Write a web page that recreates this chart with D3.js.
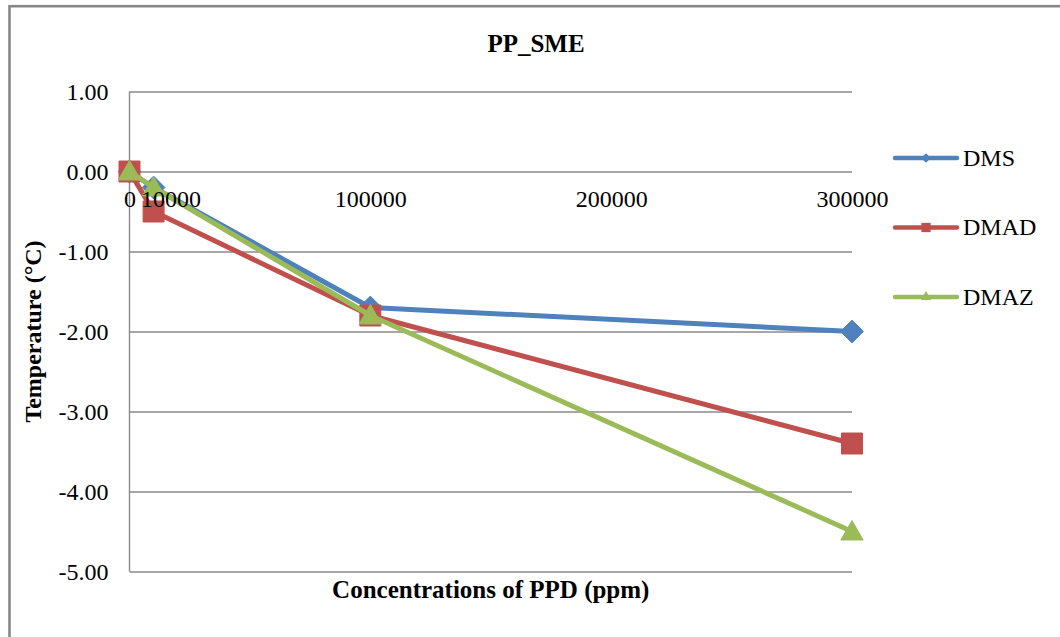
<!DOCTYPE html>
<html>
<head>
<meta charset="utf-8">
<script src="https://cdn.jsdelivr.net/npm/d3@7/dist/d3.min.js"></script>
<style>
  html, body { margin: 0; padding: 0; background: #ffffff; }
  svg { display: block; }
  text { font-family: "Liberation Serif", "Times New Roman", serif; fill: #000; }
</style>
</head>
<body>
<svg id="chart" width="1060" height="637"></svg>
<script>
// PPD concentrations (ppm) at which each additive was measured
const concentrations = [0, 10000, 100000, 300000];
// Temperature change (°C) per series
const dmsValues  = [0, -0.2, -1.7, -2.0];
const dmadValues = [0, -0.5, -1.8, -3.4];
const dmazValues = [0, -0.2, -1.8, -4.5];
const seriesNames = ["DMS", "DMAD", "DMAZ"];
// Axis ticks
const xTickValues = [0, 10000, 100000, 200000, 300000];
const yTickValues = [1, 0, -1, -2, -3, -4, -5];

const chartTitle = "PP_SME";
const xTitle = "Concentrations of PPD (ppm)";
const yTitle = "Temperature (°C)";

const colors = { DMS: "#4F81BD", DMAD: "#C0504D", DMAZ: "#9BBB59" };
const markers = { DMS: d3.symbolDiamond2, DMAD: d3.symbolSquare2, DMAZ: d3.symbolTriangle2 };

const series = [
  { name: seriesNames[0], values: dmsValues },
  { name: seriesNames[1], values: dmadValues },
  { name: seriesNames[2], values: dmazValues }
];

const svg = d3.select("#chart");
const gridColor = "#8a8a8a";
const tickFont = 24;

// chart frame (runs off the right and bottom edges)
svg.append("rect")
  .attr("x", 9.5).attr("y", 6.2)
  .attr("width", 1100).attr("height", 700)
  .attr("fill", "#fff")
  .attr("stroke", "#878787").attr("stroke-width", 2.6);

const plot = { left: 129.5, right: 852, top: 91.5, bottom: 571.5 };

const x = d3.scaleLinear().domain([0, 300000]).range([plot.left, plot.right]);
const y = d3.scaleLinear().domain([1, -5]).range([plot.top, plot.bottom]);

const fmt = d3.formatLocale({ decimal: ".", thousands: ",", grouping: [3], currency: ["", ""], minus: "-" }).format(".2f");

// y axis with horizontal gridlines
const yAxis = svg.append("g")
  .attr("transform", `translate(${plot.left},0)`)
  .call(d3.axisLeft(y).tickValues(yTickValues).tickFormat(fmt)
    .tickSizeInner(-(plot.right - plot.left)).tickSizeOuter(0).tickPadding(21));
yAxis.select(".domain").remove();
yAxis.selectAll(".tick line").attr("stroke", gridColor).attr("stroke-width", 1.4);
yAxis.selectAll(".tick text").attr("font-size", tickFont).attr("dy", "0.33em");

// vertical axis line
svg.append("line")
  .attr("x1", plot.left).attr("x2", plot.left)
  .attr("y1", plot.top).attr("y2", plot.bottom)
  .attr("stroke", gridColor).attr("stroke-width", 1.4);

// series lines and markers
const line = d3.line().x((d, i) => x(concentrations[i])).y(d => y(d));
const markerSize = { DMS: 330, DMAD: 560, DMAZ: 360 };

series.forEach(s => {
  const g = svg.append("g");
  g.append("path")
    .datum(s.values)
    .attr("d", line)
    .attr("fill", "none")
    .attr("stroke", colors[s.name])
    .attr("stroke-width", 5)
    .attr("stroke-linejoin", "round");
  g.selectAll("path.mark")
    .data(s.values)
    .join("path")
    .attr("class", "mark")
    .attr("d", d3.symbol().type(markers[s.name]).size(markerSize[s.name]))
    .attr("transform", (d, i) => `translate(${x(concentrations[i])},${y(d) + (s.name === "DMAZ" ? 2 : 0)})`)
    .attr("fill", colors[s.name])
    .attr("stroke", colors[s.name])
    .attr("stroke-width", 1);
});

// x axis labels sit just below the zero line, drawn over the series
const xFormat = d3.format("d");
const xAxis = svg.append("g")
  .attr("transform", `translate(0,${y(0)})`)
  .call(d3.axisBottom(x).tickValues(xTickValues).tickFormat(xFormat)
    .tickSize(0).tickPadding(18.5));
xAxis.select(".domain").remove();

// left-align each label, pushing it right when it would run into its neighbour
const measureCtx = document.createElement("canvas").getContext("2d");
measureCtx.font = `${tickFont}px "Liberation Serif"`;
let prevRight = -Infinity;
xAxis.selectAll(".tick text").each(function (d) {
  const label = xFormat(d);
  const w = Math.max(measureCtx.measureText(label).width, label.length * tickFont * 0.5);
  let left = x(d) - w / 2;
  if (left < prevRight + 5) left = prevRight + 5;
  d3.select(this)
    .attr("font-size", tickFont)
    .attr("text-anchor", "start")
    .attr("x", left - x(d));
  prevRight = left + w;
});

// title
svg.append("text")
  .attr("x", 536).attr("y", 52)
  .attr("text-anchor", "middle")
  .attr("font-size", 25).attr("font-weight", "bold")
  .text(chartTitle);

// axis titles
svg.append("text")
  .attr("x", (plot.left + plot.right) / 2).attr("y", 598)
  .attr("text-anchor", "middle")
  .attr("font-size", 25).attr("font-weight", "bold")
  .text(xTitle);

svg.append("text")
  .attr("transform", `translate(41,${(plot.top + plot.bottom) / 2}) rotate(-90)`)
  .attr("text-anchor", "middle")
  .attr("font-size", 24).attr("font-weight", "bold")
  .text(yTitle);

// legend
const legend = svg.append("g");
const legendY = d3.scalePoint().domain(seriesNames).range([158, 297]);
const legendSize = { DMS: 60, DMAD: 110, DMAZ: 80 };
seriesNames.forEach(name => {
  const gy = legendY(name);
  legend.append("line")
    .attr("x1", 895).attr("x2", 957)
    .attr("y1", gy).attr("y2", gy)
    .attr("stroke", colors[name]).attr("stroke-width", 4.5)
    .attr("stroke-linecap", "round");
  legend.append("path")
    .attr("d", d3.symbol().type(markers[name]).size(legendSize[name]))
    .attr("transform", `translate(926,${gy})`)
    .attr("fill", colors[name]);
  legend.append("text")
    .attr("x", 963).attr("y", gy).attr("dy", "0.33em")
    .attr("font-size", 24)
    .text(name);
});
</script>
</body>
</html>
